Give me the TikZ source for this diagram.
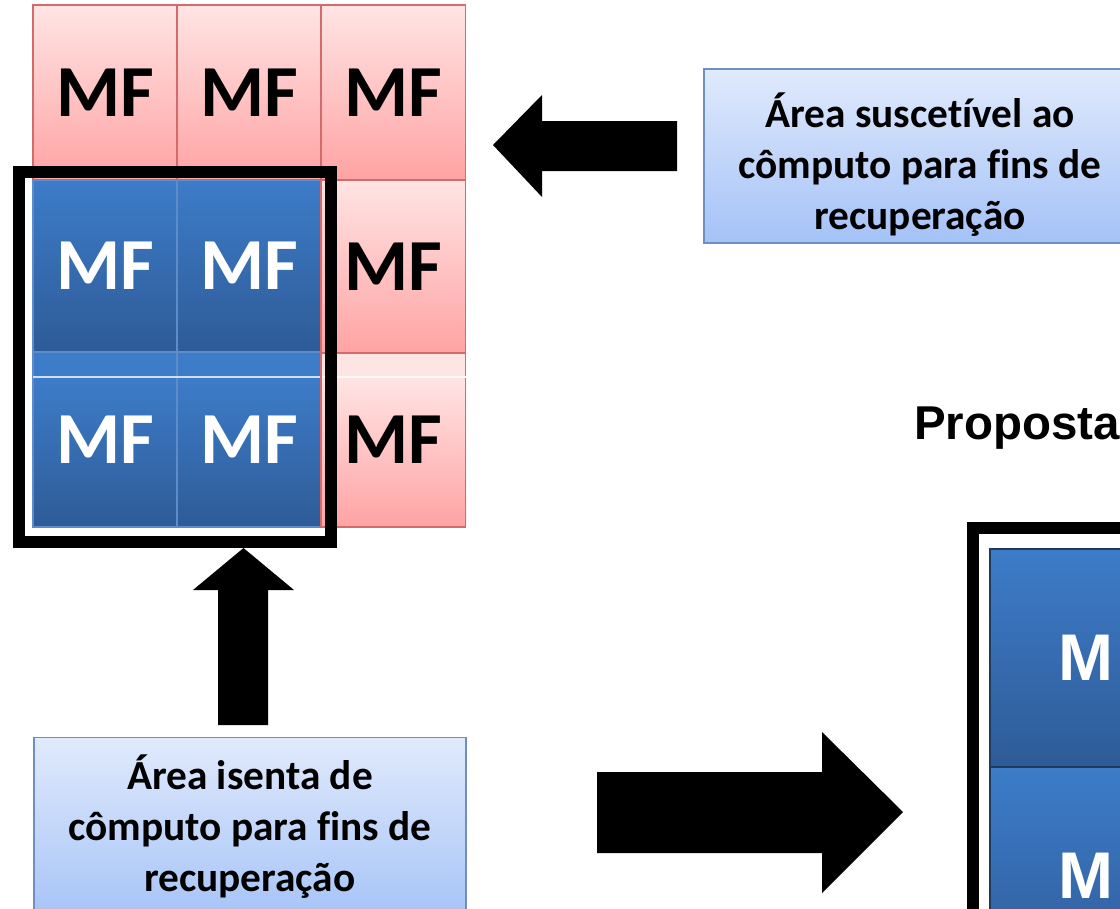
\documentclass[tikz,border=0pt]{standalone}
\usepackage{fontspec}
\newfontfamily\carl{Carlito}[RawFeature={-liga;-clig;-calt;-dlig}]
\newfontfamily\lsans{Liberation Sans}
\usetikzlibrary{shadings}
\definecolor{pinkT}{HTML}{FFE4E4}
\definecolor{pinkB}{HTML}{FFA3A3}
\definecolor{pinkL}{HTML}{D36B6B}
\definecolor{blueT}{HTML}{3D7CC9}
\definecolor{blueB}{HTML}{2E5B97}
\definecolor{blueL}{HTML}{5E8CC8}
\definecolor{blueD}{HTML}{1E3A60}
\definecolor{lboxT}{HTML}{E0EAFC}
\definecolor{lboxB}{HTML}{A4C2F7}
\definecolor{lboxL}{HTML}{6F8FC0}
\begin{document}
\begin{tikzpicture}[x=0.75pt,y=-0.75pt,
  mffont/.style={font=\carl\bfseries\fontsize{55}{55}\selectfont},
  cellbase/.style={inner sep=0pt, outer sep=0pt, line width=0.8pt, minimum width=108pt, mffont},
  pinkcell/.style={cellbase, draw=pinkL, top color=pinkT, bottom color=pinkB, text=black},
  pinkcellnf/.style={cellbase, draw=pinkL, text=black},
  bluecell/.style={cellbase, draw=blueL, top color=blueT, bottom color=blueB, text=white},
  bluecellnf/.style={cellbase, draw=blueL, text=white},
  bigcell/.style={inner sep=0pt, outer sep=0pt, line width=1.2pt, draw=blueD, top color=blueT, bottom color=blueB, text=white, minimum width=144pt, minimum height=163.5pt, font=\lsans\bfseries\fontsize{49.5}{50}\selectfont},
  lbox/.style={draw=lboxL, line width=1pt, top color=lboxT, bottom color=lboxB, inner sep=0pt, minimum width=324pt, minimum height=130.5pt},
  boxtext/.style={align=center, inner sep=0pt, font=\carl\bfseries\fontsize{31}{38.25}\selectfont},
  frame/.style={draw=black, line width=9pt},
  blockarrow/.style={fill=black}
]
\useasboundingbox (0,0) rectangle (1120,908);
\fill[white] (0,0) rectangle (1120,908);
\clip (0,0) rectangle (1120,908);

% ---- pink grid (rows 1 and 2)
\node[pinkcell, minimum height=131.25pt] (p11) at (105,92.5) {MF};
\node[pinkcell, minimum height=131.25pt] (p12) at (249,92.5) {MF};
\node[pinkcell, minimum height=131.25pt] (p13) at (393.5,92.5) {MF};
\node[pinkcell, minimum height=129.75pt] (p23) at (393.5,266.5) {MF};
% row 3 background (band + shaded part)
\fill[pinkT] (321,353) rectangle (466,377);
\fill[top color=pinkT, bottom color=pinkB] (321,377) rectangle (466,527);
\node[pinkcellnf, minimum height=130.5pt] (p33) at (393.5,440) {MF};

% ---- blue cells
\node[bluecell, minimum height=129pt] (b21) at (105,266) {MF};
\node[bluecell, minimum height=129pt] (b22) at (249,266) {MF};
\fill[blueT] (33,352) rectangle (321,377);
\fill[top color=blueT, bottom color=blueB] (33,377) rectangle (321,527);
\node[bluecellnf, minimum height=131.25pt] (b31) at (105,439.5) {MF};
\node[bluecellnf, minimum height=131.25pt] (b32) at (249,439.5) {MF};
\draw[white!75!blueT, line width=0.8pt] (33,377) -- (321,377);
\draw[white!80!pinkT, line width=0.8pt] (321,377) -- (466,377);
\draw[pinkL, line width=1pt] (321,180) -- (321,527);

% ---- black frame left
\draw[frame] (18.5,172) rectangle (331,542);

% ---- up arrow
\fill[blockarrow] (243.5,548) -- (294,590) -- (268,590) -- (268,725) -- (218,725) -- (218,590) -- (193,590) -- cycle;

% ---- bottom-left box
\node[lbox, minimum height=140pt] (boxB) at (250,831) {};
\node[boxtext] (txtB) at (250,827) {Área isenta de\\cômputo para fins de\\recuperação};

% ---- top-right box
\node[lbox] (boxA) at (920,156) {};
\node[boxtext] (txtA) at (920,165) {Área suscetível ao\\cômputo para fins de\\recuperação};

% ---- left arrow
\fill[blockarrow] (493,145) -- (542,95) -- (542,121) -- (677,121) -- (677,171) -- (542,171) -- (542,197) -- cycle;

% ---- right arrow
\fill[blockarrow] (597,772) -- (822,772) -- (822,732) -- (903,812) -- (822,893) -- (822,853) -- (597,853) -- cycle;

% ---- Proposta
\node[anchor=base west, inner sep=0pt, font=\lsans\bfseries\fontsize{35.6}{40}\selectfont] (prop) at (914,439) {Proposta};

% ---- bottom-right frame and cells
\draw[frame] (972.5,528) rectangle (1300,1100);
\node[bigcell] (r1) at (1086,658) {M};
\node[bigcell] (r2) at (1086,876) {M};
\end{tikzpicture}
\end{document}
